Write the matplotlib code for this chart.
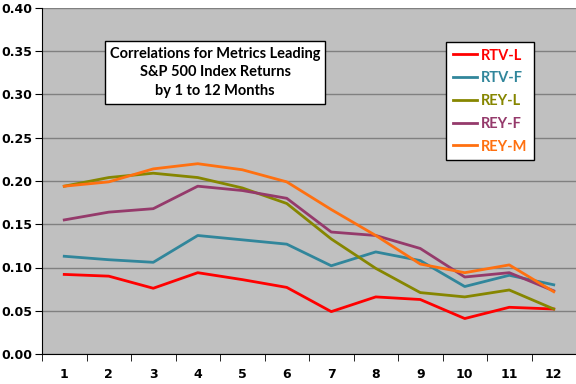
import matplotlib.pyplot as plt
import numpy as np
from matplotlib.ticker import FixedLocator

months = list(range(1, 13))

rtv_l = [0.092, 0.090, 0.076, 0.094, 0.086, 0.077, 0.049, 0.066, 0.063, 0.041, 0.054, 0.052]
rtv_f = [0.113, 0.109, 0.106, 0.137, 0.132, 0.127, 0.102, 0.118, 0.108, 0.078, 0.091, 0.080]
rey_l = [0.194, 0.204, 0.209, 0.204, 0.192, 0.174, 0.133, 0.099, 0.071, 0.066, 0.074, 0.052]
rey_f = [0.155, 0.164, 0.168, 0.194, 0.189, 0.180, 0.141, 0.137, 0.122, 0.089, 0.094, 0.073]
rey_m = [0.194, 0.199, 0.214, 0.220, 0.213, 0.199, 0.167, 0.137, 0.104, 0.094, 0.103, 0.072]

series = [
    ('RTV-L', rtv_l, '#FF0000'),
    ('RTV-F', rtv_f, '#31869B'),
    ('REY-L', rey_l, '#868600'),
    ('REY-F', rey_f, '#953A6B'),
    ('REY-M', rey_m, '#FF7010'),
]

fig = plt.figure(figsize=(5.76, 3.84), dpi=100)
ax = fig.add_axes([42 / 576, 30 / 384, 534 / 576, 346 / 384])
ax.set_facecolor('#C0C0C0')

for name, vals, col in series:
    ax.plot(months, vals, color=col, lw=2, label=name)

ax.set_xlim(0.5, 12.5)
ax.set_ylim(0, 0.40)
ax.set_yticks(np.arange(0, 0.401, 0.05))
ax.set_yticklabels(['%.2f' % v for v in np.arange(0, 0.401, 0.05)])
ax.yaxis.grid(True, color='#808080', lw=1)
ax.set_axisbelow(True)

# category labels centred, tick marks between categories
ax.set_xticks(months)
ax.set_xticklabels([str(m) for m in months])
ax.xaxis.set_minor_locator(FixedLocator(np.arange(0.5, 13, 1)))
ax.tick_params(axis='x', which='major', length=0, pad=10)
ax.tick_params(axis='x', which='minor', length=5, direction='out', color='black')
ax.tick_params(axis='y', length=5, direction='out', pad=2)
for lbl in ax.get_xticklabels() + ax.get_yticklabels():
    lbl.set_fontweight('bold')
    lbl.set_fontsize(9)
    lbl.set_family('DejaVu Sans')

for s in ['top', 'right']:
    ax.spines[s].set_visible(False)
ax.spines['left'].set_color('black')
ax.spines['bottom'].set_color('black')

ax.text(0.324, 0.8136, 'Correlations for Metrics Leading\nS&P 500 Index Returns\nby 1 to 12 Months',
        transform=ax.transAxes, ha='center', va='center', fontsize=10.5, fontweight='bold',
        family='Lato', linespacing=1.45,
        bbox=dict(boxstyle='square,pad=0.35', fc='white', ec='black', lw=1))

leg = ax.legend(loc='upper left', bbox_to_anchor=(0.7566, 0.9017), frameon=True, fancybox=False,
                edgecolor='black', framealpha=1, handlelength=1.65, handletextpad=0.3,
                labelspacing=0.6, borderpad=0.45, borderaxespad=0,
                prop={'family': 'Lato', 'weight': 'bold', 'size': 10.5})
leg.get_frame().set_linewidth(1)
for txt, (_, _, col) in zip(leg.get_texts(), series):
    txt.set_color(col)

fig.savefig('out.png', dpi=100)
